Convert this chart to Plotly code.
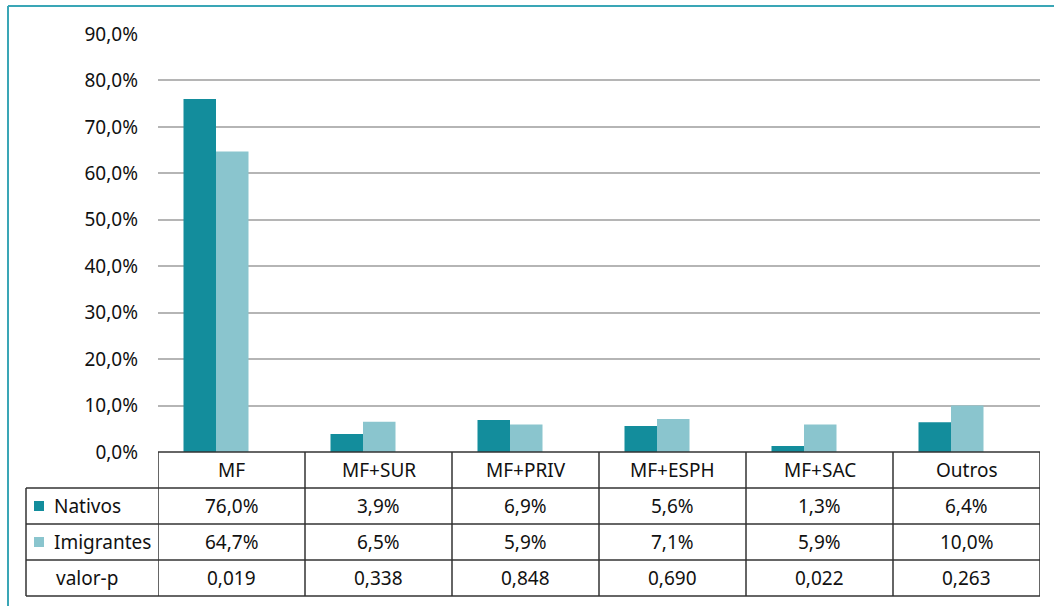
import plotly.graph_objects as go

categories = ["MF", "MF+SUR", "MF+PRIV", "MF+ESPH", "MF+SAC", "Outros"]
nativos = [76.0, 3.9, 6.9, 5.6, 1.3, 6.4]
imigrantes = [64.7, 6.5, 5.9, 7.1, 5.9, 10.0]
valor_p = ["0,019", "0,338", "0,848", "0,690", "0,022", "0,263"]
y_ticks = [0, 10, 20, 30, 40, 50, 60, 70, 80, 90]
y_tick_labels = [f"{v:.1f}%".replace(".", ",") for v in y_ticks]

C_NAT = "#138D9C"
C_IMI = "#8AC5CE"
C_BORDER = "#3AA6B6"
FONT = "Noto Sans"

W, H = 1054, 606
L, R, T, B = 158, 14, 34, 154
PW, PH = W - L - R, H - T - B
CAT_PX = PW / 6.0


def px(x):
    return (x - L) / PW


def py(y):
    return (H - B - y) / PH


BAR_W = 32.5 / CAT_PX
OFF_NAT = -48.0 / CAT_PX
OFF_IMI = OFF_NAT + BAR_W

fig = go.Figure()
fig.add_bar(x=categories, y=nativos, name="Nativos", marker_color=C_NAT,
            marker_line_width=0, width=BAR_W, offset=OFF_NAT)
fig.add_bar(x=categories, y=imigrantes, name="Imigrantes", marker_color=C_IMI,
            marker_line_width=0, width=BAR_W, offset=OFF_IMI)

shapes = []
ann = []
line_col = "#333333"
row_edges = [452, 488, 524, 560, 596]
left_x = 26
n = len(categories)

shapes.append(dict(type="line", xref="x", yref="paper", x0=-0.5, x1=n - 0.5,
                   y0=py(row_edges[0]), y1=py(row_edges[0]),
                   line=dict(color=line_col, width=1.5)))
for ry in row_edges[1:]:
    shapes.append(dict(type="line", xref="paper", yref="paper", x0=px(left_x), x1=1,
                       y0=py(ry), y1=py(ry), line=dict(color=line_col, width=1.5)))
for i in range(n + 1):
    shapes.append(dict(type="line", xref="x", yref="paper", x0=i - 0.5, x1=i - 0.5,
                       y0=py(row_edges[0]), y1=py(row_edges[-1]),
                       line=dict(color=line_col, width=1.5)))
shapes.append(dict(type="line", xref="paper", yref="paper", x0=px(left_x), x1=px(left_x),
                   y0=py(row_edges[1]), y1=py(row_edges[-1]),
                   line=dict(color=line_col, width=1.5)))

shapes.append(dict(type="line", xref="paper", yref="paper", x0=px(8), x1=px(W),
                   y0=py(6), y1=py(6), line=dict(color=C_BORDER, width=2)))
shapes.append(dict(type="line", xref="paper", yref="paper", x0=px(8), x1=px(8),
                   y0=py(6), y1=py(H), line=dict(color=C_BORDER, width=2)))

for ry0, col in [(row_edges[1], C_NAT), (row_edges[2], C_IMI)]:
    cy = ry0 + 18
    shapes.append(dict(type="rect", xref="paper", yref="paper", x0=px(34), x1=px(44),
                       y0=py(cy + 5), y1=py(cy - 5), fillcolor=col, line_width=0))

fs = 19
tfont = dict(size=fs, color="#111111", family=FONT)
rows = [
    [f"{v:.1f}%".replace(".", ",") for v in nativos],
    [f"{v:.1f}%".replace(".", ",") for v in imigrantes],
    valor_p,
]
for i, c in enumerate(categories):
    cy = (row_edges[0] + row_edges[1]) / 2
    ann.append(dict(x=i, y=py(cy), xref="x", yref="paper", text=c, showarrow=False,
                    xanchor="center", yanchor="middle", font=tfont))
    for r, vals in enumerate(rows):
        cy = (row_edges[r + 1] + row_edges[r + 2]) / 2
        ann.append(dict(x=i, y=py(cy), xref="x", yref="paper", text=vals[i],
                        showarrow=False, xanchor="center", yanchor="middle", font=tfont))

labels = [("Nativos", 52, "left"), ("Imigrantes", 52, "left"), ("valor-p", 87, "center")]
for r, (t, x, anc) in enumerate(labels):
    cy = (row_edges[r + 1] + row_edges[r + 2]) / 2
    ann.append(dict(x=px(x), y=py(cy), xref="paper", yref="paper", text=t,
                    xanchor=anc, yanchor="middle", showarrow=False, font=tfont))

fig.update_layout(
    width=W, height=H,
    margin=dict(l=L, r=R, t=T, b=B),
    barmode="overlay",
    showlegend=False,
    plot_bgcolor="white", paper_bgcolor="white",
    font=dict(family=FONT, size=fs, color="#111111"),
    xaxis=dict(range=[-0.5, n - 0.5], showticklabels=False, showgrid=False,
               zeroline=False, showline=False, ticks=""),
    yaxis=dict(range=[0, 90], tickvals=y_ticks, ticktext=y_tick_labels,
               showgrid=True, gridcolor="#B5B5B5", gridwidth=1.5,
               zeroline=False, showline=False, ticks="", ticklabelstandoff=19,
               tickfont=tfont),
    shapes=shapes, annotations=ann,
)

fig.write_html("out.html", config={"displayModeBar": False},
               post_script="document.body.style.margin='0';document.body.style.padding='0';")
